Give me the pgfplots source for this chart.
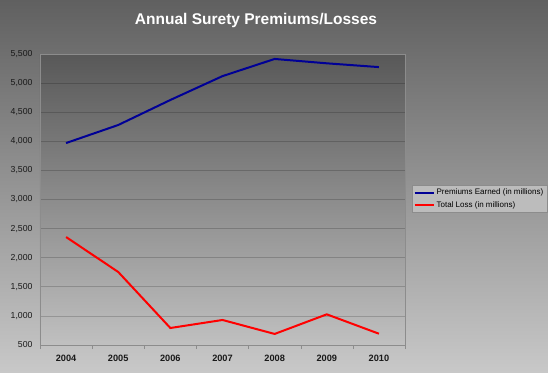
\documentclass[border=0pt]{standalone}
\usepackage{pgfplots}
\pgfplotsset{compat=1.18}
\usepackage{fontspec}
\setmainfont{Liberation Sans}
\definecolor{bgtop}{RGB}{96,96,96}
\definecolor{bgbot}{RGB}{200,200,200}
\definecolor{patop}{RGB}{88,88,88}
\definecolor{pabot}{RGB}{192,192,192}
\definecolor{axc}{RGB}{140,140,140}
\definecolor{premblue}{RGB}{0,0,150}
\definecolor{lossred}{RGB}{255,0,0}
\definecolor{legbg}{RGB}{188,188,188}
\definecolor{ticklab}{RGB}{25,25,25}
\begin{document}
\begin{tikzpicture}[x=1pt,y=1pt]
\shade[top color=bgtop, bottom color=bgbot] (0,0) rectangle (548,372);
\node[text=white, font=\fontsize{15.5}{18}\selectfont\bfseries] at (256,352) {Annual Surety Premiums/Losses};
\begin{axis}[
  at={(40pt,27pt)}, anchor=south west,
  scale only axis, width=365pt, height=291pt,
  xmin=-0.5, xmax=6.5, ymin=500, ymax=5500,
  xtick={0,1,2,3,4,5,6},
  xticklabels={2004,2005,2006,2007,2008,2009,2010},
  minor xtick={-0.5,0.5,1.5,2.5,3.5,4.5,5.5,6.5},
  ytick={500,1000,...,5500},
  major tick length=0pt, minor tick length=4pt,
  tick align=outside, tick pos=left,
  minor tick style={axc},
  ymajorgrids, grid style={black, opacity=0.18, line width=0.7pt},
  axis line style={axc, line width=0.8pt},
  axis background/.style={shade, top color=patop, bottom color=pabot},
  /pgf/number format/assume math mode=true,
  /pgf/number format/1000 sep={,},
  yticklabel style={font=\fontsize{8.7}{10}\selectfont, text=ticklab, xshift=-4pt},
  xticklabel style={font=\fontsize{9.2}{10}\selectfont\bfseries, text=ticklab, yshift=-7pt},
  legend style={at={(1.019,0.502)}, anchor=west, fill=legbg, draw=axc,
    font=\fontsize{8}{9.5}\selectfont, inner sep=1.5pt, row sep=1.5pt,
    legend cell align=left},
  legend image code/.code={\draw[#1] (0pt,0pt) -- (19pt,0pt);},
]
\addplot[premblue, line width=2pt] coordinates {(0,3970) (1,4280) (2,4710) (3,5120) (4,5415) (5,5340) (6,5275)};
\addlegendentry{Premiums Earned (in millions)}
\addplot[lossred, line width=2pt] coordinates {(0,2355) (1,1755) (2,792) (3,930) (4,690) (5,1027) (6,694)};
\addlegendentry{Total Loss (in millions)}
\end{axis}
\end{tikzpicture}
\end{document}
